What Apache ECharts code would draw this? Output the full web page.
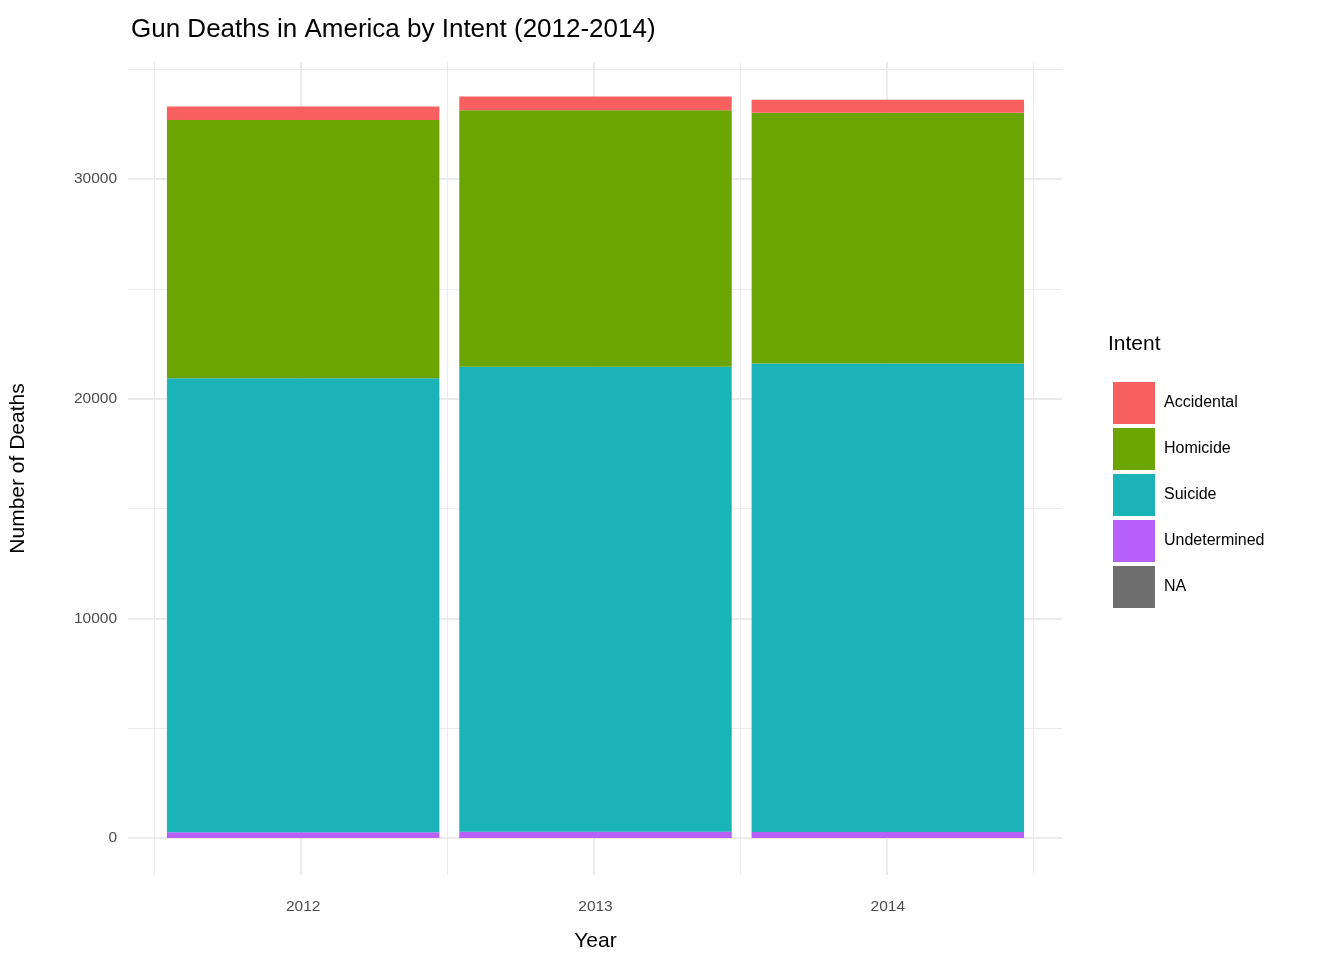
<!DOCTYPE html>
<html><head><meta charset="utf-8">
<script src="https://cdn.jsdelivr.net/npm/echarts@6/dist/echarts.min.js"></script>
<style>html,body{margin:0;padding:0;background:#fff}#c{width:1344px;height:960px}</style>
</head><body><div id="c"></div>
<script>
const years = ['2012','2013','2014'];
const intents = ['Accidental','Homicide','Suicide','Undetermined','NA'];
const accidental = [613, 618, 586];
const homicide = [11765, 11674, 11409];
const suicide = [20666, 21175, 21334];
const undetermined = [256, 281, 270];
const naVals = [1, 0, 0];
const yTicks = [0, 10000, 20000, 30000];
const yGrid = [0, 5000, 10000, 15000, 20000, 25000, 30000, 35000];
const xGrid = [0.5, 1, 1.5, 2, 2.5, 3, 3.5];
const colors = {Accidental:'#F8605F', Homicide:'#6BA503', Suicide:'#19B3B8', Undetermined:'#B760FB', NA:'#6E6E6E'};
const YMIN = -1684, YMAX = 35323;

const seriesDefs = [['NA', naVals], ['Undetermined', undetermined], ['Suicide', suicide], ['Homicide', homicide], ['Accidental', accidental]];
const chart = echarts.init(document.getElementById('c'));
const series = [{
  name:'grid', type:'line', data:[], silent:true, z:0, xAxisIndex:1, yAxisIndex:1,
  markLine:{silent:true, symbol:'none', label:{show:false}, animation:false,
    data:[...yGrid.map(v=>({yAxis:v, lineStyle:{color:'#EBEBEB', width: v%10000===0?2:1, type:'solid'}})),
          ...xGrid.map(v=>({xAxis:v, lineStyle:{color:'#EBEBEB', width: Number.isInteger(v)?2:1, type:'solid'}}))]}
}];
seriesDefs.forEach(([name, vals]) => series.push({
  name, type:'bar', stack:'all', barCategoryGap:'6.8%', z:5, xAxisIndex:0, yAxisIndex:0,
  itemStyle:{color:colors[name]}, data: vals
}));
const font = 'Liberation Sans';
chart.setOption({
  animation:false,
  color: intents.map(n=>colors[n]),
  title:{text:'Gun Deaths in America by Intent (2012-2014)', left:126, top:12,
    textStyle:{fontFamily:font, fontSize:26, fontWeight:'normal', color:'#000'}},
  grid:[{left:155, right:310, top:62, bottom:85}, {left:128, right:282, top:62, bottom:85}],
  xAxis:[
    {type:'category', data:years, gridIndex:0, name:'Year', nameLocation:'middle', nameGap:56,
      nameTextStyle:{fontFamily:font, fontSize:21, color:'#000'},
      axisLine:{show:false}, axisTick:{show:false}, splitLine:{show:false},
      axisLabel:{color:'#4D4D4D', fontSize:15.5, fontFamily:font, margin:24}},
    {type:'value', gridIndex:1, min:0.41, max:3.597, show:false}
  ],
  yAxis:[
    {type:'value', gridIndex:0, min:YMIN, max:YMAX, name:'Number of Deaths', nameLocation:'middle', nameGap:128,
      nameTextStyle:{fontFamily:font, fontSize:21, color:'#000'},
      axisLine:{show:false}, axisTick:{show:false}, splitLine:{show:false},
      axisLabel:{customValues:yTicks, formatter:v=>String(v), color:'#4D4D4D', fontSize:15.5, fontFamily:font, margin:40}},
    {type:'value', gridIndex:1, min:YMIN, max:YMAX, show:false}
  ],
  legend:{data:intents, orient:'vertical', left:1108, top:377, itemWidth:42, itemHeight:42, itemGap:4, icon:'rect',
    textStyle:{fontFamily:font, fontSize:16, color:'#000', padding:[0,0,0,4]}, selectedMode:false},
  graphic:[{type:'text', left:1108, top:334, style:{text:'Intent', font:'21px Liberation Sans', fill:'#000'}}],
  series
});
</script></body></html>
